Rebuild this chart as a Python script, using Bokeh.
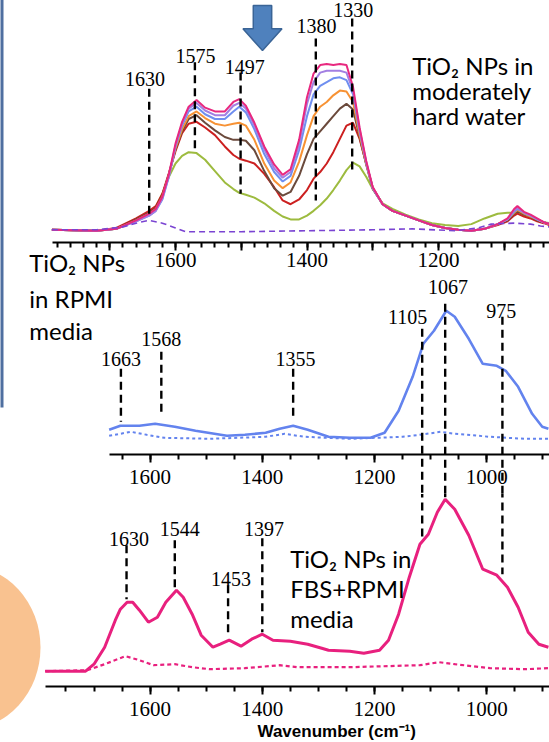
from bokeh.plotting import figure
from bokeh.layouts import column
from bokeh.models import Range1d, FixedTicker
from bokeh.core.properties import value
from bokeh.embed import file_html
from bokeh.resources import INLINE

# ================= DATA =================
# Panel 1: TiO2 NPs in moderately hard water (7 time points + reference)
wn_top = [1788, 1720, 1690, 1660, 1640, 1630, 1620, 1610, 1600, 1590, 1580, 1568, 1555, 1540,
          1525, 1512, 1503, 1493, 1480, 1465, 1450, 1437, 1425, 1412, 1400, 1390, 1380, 1370,
          1360, 1350, 1340, 1330, 1320, 1310, 1300, 1285, 1270, 1250, 1230, 1210, 1190, 1170,
          1150, 1130, 1110, 1095, 1085, 1080, 1070, 1060, 1050, 1040, 1031]
top_green = [0, -1, 1, 10, 18, 24, 38, 56, 70, 78, 82, 81, 74, 62, 50, 43, 39, 37, 34, 28, 20, 14,
             11, 11, 15, 20, 26, 33, 42, 52, 63, 71, 67, 56, 43, 28, 22, 16, 11, 7, 5, 4, 6, 12,
             17, 18, 18, 18, 16, 14, 11, 8, 7]
top_red = [0, -1, 2, 12, 20, 25, 38, 60, 83, 102, 112, 114, 108, 100, 88, 79, 75, 73, 70, 59, 45,
           31, 27, 32, 42, 54, 61, 70, 82, 96, 110, 113, 96, 70, 45, 27, 20, 15, 10, 5, 2, 0, -1,
           1, 5, 9, 15, 17, 14, 12, 9, 7, 5]
top_brown = [0, -1, 1, 11, 18, 23, 36, 59, 85, 104, 117, 121, 113, 105, 98, 95, 95, 94, 84, 62, 44,
             36, 40, 57, 80, 96, 104, 112, 120, 128, 133, 127, 98, 69, 43, 27, 20, 15, 10, 5, 2, 0,
             -1, 1, 6, 10, 17, 20, 16, 14, 10, 8, 6]
top_orange = [0, -1, 1, 10, 17, 22, 35, 58, 86, 106, 120, 125, 118, 112, 110, 112, 113, 110, 95, 70,
              52, 44, 50, 72, 100, 120, 130, 135, 142, 147, 146, 135, 100, 70, 44, 27, 20, 15, 10,
              5, 2, 0, -1, 1, 6, 11, 18, 21, 17, 14, 11, 8, 6]
top_blue = [0, -1, 1, 9, 15, 20, 32, 56, 88, 110, 125, 130, 122, 117, 117, 125, 130, 124, 106, 80,
            61, 51, 57, 84, 120, 143, 152, 156, 160, 161, 158, 143, 104, 71, 44, 27, 20, 15, 10, 5,
            2, 0, -1, 1, 6, 11, 19, 22, 18, 15, 11, 8, 6]
top_purple = [0, -1, 1, 9, 15, 20, 33, 57, 89, 112, 128, 134, 126, 121, 121, 131, 134, 128, 110, 85,
              65, 55, 61, 90, 133, 156, 166, 168, 168, 168, 166, 147, 106, 72, 44, 27, 20, 15, 10,
              5, 2, 0, -1, 1, 6, 11, 20, 23, 18, 15, 11, 8, 6]
top_magenta = [0, -1, 1, 10, 17, 22, 35, 59, 91, 114, 130, 137, 129, 125, 125, 135, 138, 131, 113,
               88, 69, 58, 64, 95, 140, 165, 174, 175, 174, 175, 174, 151, 108, 73, 45, 27, 20, 15,
               10, 5, 2, 0, -1, 1, 6, 12, 22, 25, 19, 16, 12, 8, 6]
wn_top_ref = [1788, 1720, 1680, 1660, 1640, 1620, 1600, 1585, 1500, 1400, 1300, 1240, 1175, 1140,
              1120, 1085, 1060, 1045, 1031]
top_ref = [0, 0, 3, 7, 10, 7, 2, -2, -2, -1, 0, 1, -1, 2, 6, 7, 6, 4, 3]

top_peak_wn = [1640, 1570.5, 1501, 1386.6, 1331.3]
top_peak_hi = [149, 177, 166, 202, 223]
top_peak_lo = [17, 85, 38, 31, 61]
top_peak_labels = ["1630", "1575", "1497", "1380", "1330"]
top_label_wn = [1646.5, 1569.4, 1494.8, 1385.6, 1329.6]
top_label_h = [159.4, 184, 171.7, 215.7, 232.5]

# Panel 2: TiO2 NPs in RPMI media
wn_mid = [1673, 1653, 1619, 1591, 1556, 1519, 1463, 1431, 1394, 1369, 1345, 1319, 1282, 1244, 1207,
          1182, 1157, 1132, 1113, 1094, 1072, 1057, 1032, 1007, 982, 966, 944, 919, 901, 890]
mid_sample = [8, 12, 12, 14, 11, 7, 2, 3, 5, 9, 12, 8, 1, 0, 0, 5, 27, 61, 94, 107, 127, 121, 99, 74,
              72, 67, 51, 24, 11, 9]
wn_mid_ref = [1673, 1634, 1606, 1575, 1494, 1394, 1360, 1325, 1244, 1150, 1119, 1082, 1057, 994,
              932, 890]
mid_ref = [2, 6, 3, 0, -1, 1, 4, 1, -1, 1, 3, 6, 4, 1, -1, -1]
mid_peak_wn = [1652, 1580, 1345]
mid_peak_hi = [69, 86, 69]
mid_peak_lo = [16, 21, 17]
mid_peak_labels = ["1663", "1568", "1355"]
mid_label_wn = [1652, 1580, 1341]
mid_label_h = [79, 99, 79]
shared_peak_wn = [1115, 1074, 972]       # lines crossing panels 2 and 3
shared_peak_labels = ["1105", "1067", "975"]
shared_top_mid = [109, 134, 121]
shared_label_wn = [1141, 1069, 974]
shared_label_h = [121, 151, 127]
shared_end_bot = [131, 174, 97]

# Panel 3: TiO2 NPs in FBS+RPMI media
wn_bot = [1787, 1715, 1700, 1681, 1662, 1653, 1641, 1631, 1619, 1603, 1587, 1572, 1553, 1541, 1525,
          1509, 1488, 1475, 1459, 1438, 1419, 1400, 1381, 1350, 1319, 1294, 1282, 1244, 1219, 1191,
          1175, 1157, 1138, 1119, 1104, 1088, 1074, 1057, 1032, 1007, 982, 963, 944, 926, 907, 890]
bot_sample = [0, 0, 7, 24, 51, 62, 69, 69, 61, 49, 54, 69, 81, 74, 57, 36, 24, 27, 31, 25, 32, 37, 31,
              30, 27, 23, 21, 20, 18, 21, 31, 57, 94, 127, 137, 159, 172, 162, 136, 102, 96, 84,
              64, 39, 27, 24]
wn_bot_ref = [1787, 1712, 1681, 1644, 1619, 1594, 1556, 1525, 1494, 1431, 1369, 1338, 1244, 1119,
              1085, 1057, 994, 932, 890]
bot_ref = [0, 1, 7, 15, 11, 6, 7, 4, 2, 3, 6, 4, 4, 6, 9, 7, 3, 2, 3]
bot_peak_wn = [1642, 1556, 1461, 1400]
bot_peak_hi = [126, 131, 86, 133]
bot_peak_lo = [72, 83, 34, 39]
bot_peak_labels = ["1630", "1544", "1453", "1397"]
bot_label_wn = [1637.5, 1547, 1456, 1397]
bot_label_h = [132, 142, 92, 142]

tick_labels = [1600, 1400, 1200, 1000]
x_title = "Wavenumber (cm\u207b\u00b9)"
text_top = ["TiO\u2082 NPs in", "moderately", "hard water"]
text_mid = ["TiO\u2082 NPs", "in RPMI", "media"]
text_bot = ["TiO\u2082 NPs in", "FBS+RPMI", "media"]

# ================= STYLE / LAYOUT =================
W = 549
SERIF = "Liberation Serif"
SANS = "Lato"
DASH = "8 5"

# pixel layout of the three stacked panels
F1_BOT, C1_BOT = 242, 276
F2_BOT, C2_BOT = 454, 494
F3_BOT, C3_BOT = 686, 742
B1, K1 = 229.3, 0.947      # baseline px and px per unit, panel 1
B2, B3 = 437.3, 670.7

x1 = Range1d(1600 + 175 / 0.6575, 1600 - (W - 175) / 0.6575)
x23 = Range1d(1600 + 149.6 / 0.561, 1600 - (W - 149.6) / 0.561)
y1 = Range1d((B1 - F1_BOT) / K1, B1 / K1)
y2 = Range1d(B2 - F2_BOT, B2 - C1_BOT)
y3 = Range1d(B3 - F3_BOT, B3 - C2_BOT)


def make_fig(height, xr, yr, bottom):
    p = figure(width=W, height=height, x_range=xr, y_range=yr, output_backend="svg",
               toolbar_location=None, title=None, y_axis_location=None,
               min_border_left=0, min_border_right=0, min_border_top=0,
               min_border_bottom=bottom)
    p.grid.visible = False
    p.outline_line_color = None
    p.background_fill_color = "white"
    p.border_fill_color = "white"
    return p


def style_axis(ax, majors, minors, bounds, overrides=None, standoff=2):
    ax.ticker = FixedTicker(ticks=majors, minor_ticks=minors)
    ax.bounds = bounds
    ax.axis_line_width = 2
    ax.major_tick_line_width = 2
    ax.minor_tick_line_width = 2
    ax.major_tick_in = 0
    ax.major_tick_out = 8
    ax.minor_tick_in = 0
    ax.minor_tick_out = 5
    ax.major_label_text_font = SERIF
    ax.major_label_text_font_size = "21px"
    ax.major_label_text_color = "black"
    ax.major_label_standoff = standoff
    if overrides:
        ax.major_label_overrides = overrides


def add_text(p, xs, ys, texts, font, size, align="center", style="normal"):
    # drawn as overlay-level text glyphs so nothing is clipped at the frame edge
    p.text(x=xs, y=ys, text=texts, text_font=value(font), text_font_size=value(size),
           text_align=align, text_baseline="middle", text_color="black",
           text_font_style=style, level="overlay")


# ---------- panel 1 ----------
p1 = make_fig(C1_BOT, x1, y1, C1_BOT - F1_BOT)
style_axis(p1.xaxis[0], [1700, 1600, 1500, 1400, 1300, 1200, 1100],
           list(range(1780, 1031, -20)), (1787, x1.end),
           {1700: "", 1500: "", 1300: "", 1100: ""})

series = [(top_green, "#9dbb3f"), (top_red, "#cc2020"), (top_brown, "#6b4a3c"),
          (top_orange, "#f79234"), (top_blue, "#6f8ff0"), (top_purple, "#a27fe2"),
          (top_magenta, "#e8287f")]
for ys, c in series:
    p1.line(wn_top, ys, line_color=c, line_width=2)
p1.line(wn_top_ref, top_ref, line_color="#7a44d2", line_width=1.6, line_dash="6 4")
p1.segment(top_peak_wn, top_peak_hi, top_peak_wn, top_peak_lo, line_color="black",
           line_width=2.4, line_dash=DASH)
add_text(p1, top_label_wn, top_label_h, top_peak_labels, SERIF, "20px")
add_text(p1, [1240] * 3, [173.5, 147.1, 120.7], text_top, SANS, "24px", align="left")
# first line of panel-2 caption sits beside panel-1 tick labels
add_text(p1, [1822.4], [(B1 - 262) / K1], text_mid[:1], SANS, "24px", align="left")

# blue down arrow
ac = 1467.7
p1.patch([ac - 14, ac + 14, ac + 14, ac + 29.7, ac, ac - 29.7, ac - 14],
         [236.9, 236.9, 212.2, 212.2, 189.3, 212.2, 212.2],
         fill_color="#4f81bd", line_color="#3a6496", line_width=1.5)
# frame edge of the enclosing box (left)
p1.segment([x1.start - 1.5 / 0.6575], [y1.end + 5], [x1.start - 1.5 / 0.6575], [-60],
           line_color="#4f6fa0", line_width=3, level="overlay")

# ---------- panel 2 ----------
p2 = make_fig(C2_BOT - C1_BOT, x23, y2, C2_BOT - F2_BOT)
style_axis(p2.xaxis[0], tick_labels, list(range(1650, 880, -50)), (1672, x23.end), standoff=7)
p2.line(wn_mid, mid_sample, line_color="#6383ee", line_width=2.6)
p2.line(wn_mid_ref, mid_ref, line_color="#6383ee", line_width=2, line_dash="3 3")
p2.segment(mid_peak_wn, mid_peak_hi, mid_peak_wn, mid_peak_lo, line_color="black",
           line_width=2.4, line_dash=DASH)
p2.segment(shared_peak_wn, shared_top_mid, shared_peak_wn, [-70] * 3, line_color="black",
           line_width=2.4, line_dash=DASH, level="overlay")
add_text(p2, mid_label_wn, mid_label_h, mid_peak_labels, SERIF, "20px")
add_text(p2, shared_label_wn, shared_label_h, shared_peak_labels, SERIF, "20px")
add_text(p2, [1815.3] * 2, [B2 - 298, B2 - 330], text_mid[1:], SANS, "24px", align="left")
p2.segment([x23.start - 1.5 / 0.561], [y2.end + 5], [x23.start - 1.5 / 0.561], [B2 - 407],
           line_color="#4f6fa0", line_width=3, level="overlay")

# ---------- panel 3 ----------
p3 = make_fig(C3_BOT - C2_BOT, x23, y3, C3_BOT - F3_BOT)
style_axis(p3.xaxis[0], tick_labels, list(range(1750, 880, -50)), (1786, x23.end), standoff=7)
p3.ellipse([x23.start + 35 / 0.561], [B3 - 647], width=150 / 0.561, height=164,
           fill_color="#f9c290", line_color=None, level="overlay")
p3.line(wn_bot, bot_sample, line_color="#e8207e", line_width=3)
p3.line(wn_bot_ref, bot_ref, line_color="#e8207e", line_width=2.2, line_dash="4 3")
p3.segment(bot_peak_wn, bot_peak_hi, bot_peak_wn, bot_peak_lo, line_color="black",
           line_width=2.4, line_dash=DASH)
p3.segment(shared_peak_wn, [y3.end + 5] * 3, shared_peak_wn, shared_end_bot, line_color="black",
           line_width=2.4, line_dash=DASH, level="overlay")
add_text(p3, bot_label_wn, bot_label_h, bot_peak_labels, SERIF, "20px")
add_text(p3, [1350.3] * 3, [B3 - 558, B3 - 588, B3 - 618], text_bot, SANS, "24px", align="left")
add_text(p3, [x23.start - 257 / 0.561], [B3 - 731], [x_title], "Liberation Sans", "17px",
         align="left", style="bold")

layout = column(p1, p2, p3, spacing=0)
open("out.html", "w").write(file_html(layout, INLINE))
